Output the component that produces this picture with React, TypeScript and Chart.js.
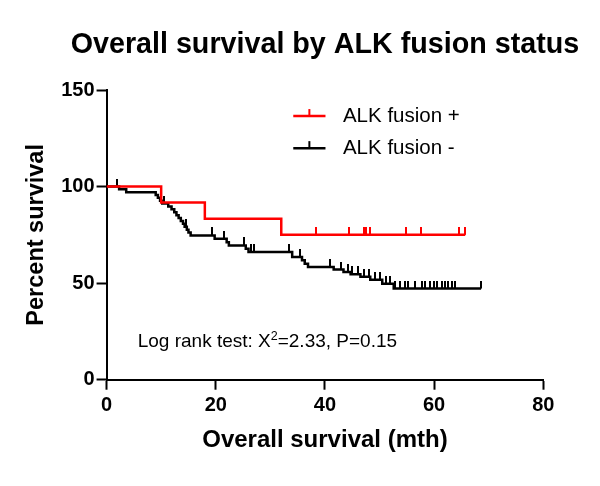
import React, { useEffect, useRef } from 'react';
import { Chart, registerables } from 'chart.js';

Chart.register(...registerables);

const FONT = '"Liberation Sans", Arial, Helvetica, sans-serif';

const TITLE = 'Overall survival by ALK fusion status';
const X_TITLE = 'Overall survival (mth)';
const Y_TITLE = 'Percent survival';
const X_TICKS = [0, 20, 40, 60, 80];
const Y_TICKS = [0, 50, 100, 150];

// ALK fusion + (red)
const posLabel = 'ALK fusion +';
const posColor = '#ff0000';
const posEventTimes = [10, 18, 32];
const posEventSurvival = [91.7, 83.3, 75.0];
const posCensorTimes = [38.3, 44.4, 47.1, 47.6, 48.2, 54.9, 57.6, 64.5, 65.7];

// ALK fusion - (black)
const negLabel = 'ALK fusion -';
const negColor = '#000000';
const negEventTimes = [
  2.3, 3.6, 9.0, 9.4, 9.8, 10.2, 11.3, 11.9, 12.4, 12.8, 13.2, 13.6, 14.0, 14.3, 14.7, 15.0, 15.4,
  19.8, 22.0, 22.4, 25.5, 26.0, 34.0, 35.8, 36.3, 36.9, 41.6, 43.4, 44.7, 46.5, 48.3, 50.5, 52.6,
];
const negEventSurvival = [
  98.6, 97.1, 95.6, 94.2, 92.7, 91.2, 89.7, 88.2, 86.7, 85.2, 83.7, 82.2, 80.7, 79.2, 77.7, 76.2, 74.7,
  73.0, 71.2, 69.5, 67.8, 66.1, 63.5, 61.8, 60.0, 58.3, 57.0, 55.8, 54.6, 53.3, 51.8, 49.7, 47.2,
];
const negCensorTimes = [
  2.0, 10.6, 14.5, 19.3, 21.6, 25.2, 26.5, 27.0, 33.4, 35.4, 41.0, 42.9, 44.2, 45.0, 46.0, 47.2,
  48.0, 49.2, 50.0, 51.2, 52.0, 52.9, 53.8, 54.7, 55.3, 56.5, 57.8, 58.4, 59.3, 59.9, 60.5, 61.4,
  62.0, 62.6, 63.2, 63.8, 68.6,
];

const ANNOTATION_PRE = 'Log rank test: X';
const ANNOTATION_SUP = '2';
const ANNOTATION_POST = '=2.33, P=0.15';
const ANNOTATION_AT = { x: 5.7, y: 20 };

type KMPoint = { x: number; y: number; censor: boolean };

function buildKM(eventTimes: number[], eventSurv: number[], censorTimes: number[]): KMPoint[] {
  const pts: KMPoint[] = [{ x: 0, y: 100, censor: false }];
  eventTimes.forEach((t, i) => pts.push({ x: t, y: eventSurv[i], censor: false }));
  censorTimes.forEach((t) => {
    let s = 100;
    eventTimes.forEach((et, i) => {
      if (et <= t) s = eventSurv[i];
    });
    pts.push({ x: t, y: s, censor: true });
  });
  pts.sort((a, b) => a.x - b.x || (a.censor === b.censor ? 0 : a.censor ? 1 : -1));
  return pts;
}

function makeTick(color: string): HTMLCanvasElement {
  const c = document.createElement('canvas');
  c.width = 2;
  c.height = 16;
  const g = c.getContext('2d')!;
  g.fillStyle = color;
  g.fillRect(0, 0, 2, 8);
  return c;
}

export default function App() {
  const ref = useRef<HTMLCanvasElement | null>(null);

  useEffect(() => {
    if (!ref.current) return;
    const posTick = makeTick(posColor);
    const negTick = makeTick(negColor);

    const overlay = {
      id: 'overlay',
      afterDraw(chart: any) {
        const ctx = chart.ctx as CanvasRenderingContext2D;
        const xs = chart.scales.x;
        const ys = chart.scales.y;
        const area = chart.chartArea;
        ctx.save();
        // title, centred over the plot area
        ctx.fillStyle = '#000';
        ctx.font = `bold 28.7px ${FONT}`;
        ctx.textAlign = 'center';
        ctx.textBaseline = 'middle';
        ctx.fillText(TITLE, (area.left + area.right) / 2, area.top - 45);
        // legend
        const items = chart.data.datasets.map((d: any) => ({ label: d.label, color: d.borderColor }));
        const lx0 = xs.getPixelForValue(34.2);
        const lx1 = xs.getPixelForValue(40.1);
        const tx = xs.getPixelForValue(43.3);
        const rows = [ys.getPixelForValue(136.5), ys.getPixelForValue(119.9)];
        items.forEach((it: any, i: number) => {
          const y = rows[i];
          ctx.strokeStyle = it.color;
          ctx.lineWidth = 2.5;
          ctx.beginPath();
          ctx.moveTo(lx0, y);
          ctx.lineTo(lx1, y);
          ctx.stroke();
          ctx.lineWidth = 2;
          ctx.beginPath();
          const mx = (lx0 + lx1) / 2;
          ctx.moveTo(mx, y);
          ctx.lineTo(mx, y - 7);
          ctx.stroke();
          ctx.fillStyle = '#000';
          ctx.font = `20.5px ${FONT}`;
          ctx.textBaseline = 'middle';
          ctx.textAlign = 'left';
          ctx.fillText(it.label, tx, y);
        });
        // annotation
        const ax = xs.getPixelForValue(ANNOTATION_AT.x);
        const ay = ys.getPixelForValue(ANNOTATION_AT.y);
        ctx.fillStyle = '#000';
        ctx.textAlign = 'left';
        ctx.textBaseline = 'alphabetic';
        ctx.font = `19px ${FONT}`;
        ctx.fillText(ANNOTATION_PRE, ax, ay + 6);
        let w = ctx.measureText(ANNOTATION_PRE).width;
        ctx.font = `12.5px ${FONT}`;
        ctx.fillText(ANNOTATION_SUP, ax + w, ay - 1.5);
        w += ctx.measureText(ANNOTATION_SUP).width;
        ctx.font = `19px ${FONT}`;
        ctx.fillText(ANNOTATION_POST, ax + w, ay + 6);
        ctx.restore();
      },
    };

    const mk = (label: string, color: string, tick: HTMLCanvasElement, pts: KMPoint[]) => ({
      label,
      data: pts,
      borderColor: color,
      backgroundColor: color,
      borderWidth: 2.5,
      stepped: 'before' as const,
      fill: false,
      tension: 0,
      pointStyle: (c: any) => (c.raw && c.raw.censor ? tick : 'circle'),
      pointRadius: (c: any) => (c.raw && c.raw.censor ? 3 : 0),
      pointHoverRadius: 0,
    });

    const chart = new Chart(ref.current, {
      type: 'line',
      data: {
        datasets: [
          mk(posLabel, posColor, posTick, buildKM(posEventTimes, posEventSurvival, posCensorTimes)),
          mk(negLabel, negColor, negTick, buildKM(negEventTimes, negEventSurvival, negCensorTimes)),
        ],
      },
      options: {
        responsive: false,
        animation: false,
        events: [],
        layout: { padding: { left: 7.5, right: 56.7, top: 90, bottom: 29 } },
        plugins: {
          legend: { display: false },
          tooltip: { enabled: false },
          title: { display: false },
        },
        scales: {
          x: {
            type: 'linear',
            min: 0,
            max: 80,
            afterBuildTicks: (s: any) => {
              s.ticks = X_TICKS.map((v) => ({ value: v }));
            },
            grid: { drawOnChartArea: false, drawTicks: true, tickLength: 10, tickWidth: 2, tickColor: '#000' },
            border: { display: true, color: '#000', width: 2 },
            ticks: { color: '#000', padding: 3.5, maxRotation: 0, font: { family: FONT, size: 20, weight: 'bold' } },
            title: {
              display: true,
              text: X_TITLE,
              color: '#000',
              font: { family: FONT, size: 24, weight: 'bold' },
              padding: { top: 5, bottom: 2.5 },
            },
          },
          y: {
            type: 'linear',
            min: 0,
            max: 150,
            afterBuildTicks: (s: any) => {
              s.ticks = Y_TICKS.map((v) => ({ value: v }));
            },
            grid: { drawOnChartArea: false, drawTicks: true, tickLength: 10, tickWidth: 2, tickColor: '#000' },
            border: { display: true, color: '#000', width: 2 },
            ticks: { color: '#000', padding: 2, font: { family: FONT, size: 20, weight: 'bold' } },
            title: {
              display: true,
              text: Y_TITLE,
              color: '#000',
              font: { family: FONT, size: 23.5, weight: 'bold' },
              padding: { top: 14.5, bottom: 9 },
            },
          },
        },
      } as any,
      plugins: [overlay],
    });
    return () => chart.destroy();
  }, []);

  return (
    <div style={{ position: 'fixed', left: 0, top: 0, width: 600, height: 486, background: '#fff' }}>
      <canvas ref={ref} width={600} height={486} />
    </div>
  );
}
